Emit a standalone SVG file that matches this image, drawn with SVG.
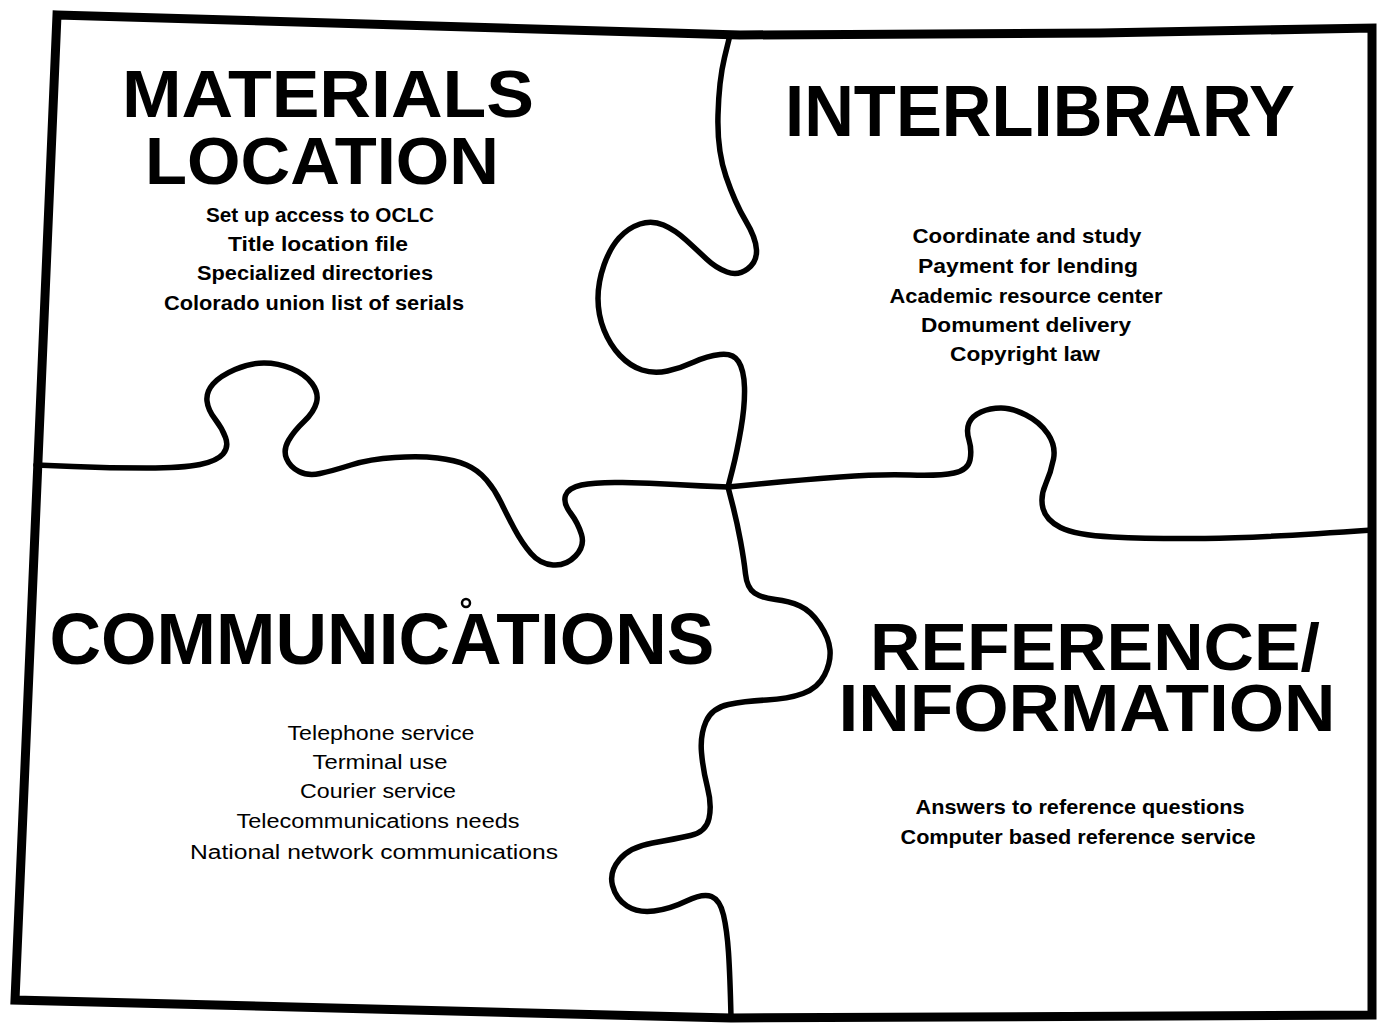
<svg xmlns="http://www.w3.org/2000/svg" width="1383" height="1024" viewBox="0 0 1383 1024">
<style>
.cut{fill:none;stroke:#000;stroke-width:5.5;stroke-linecap:round;stroke-linejoin:round}
.frame{fill:none;stroke:#000;stroke-width:9;stroke-linejoin:miter}
.head{font-family:"Liberation Sans",Arial,sans-serif;font-weight:bold;font-size:72px;fill:#000;text-anchor:middle}
.head2{font-family:"Liberation Sans",Arial,sans-serif;font-weight:bold;font-size:66px;fill:#000;text-anchor:middle}
.item{font-family:"Liberation Sans",Arial,sans-serif;font-weight:bold;font-size:21px;fill:#000;text-anchor:middle}
.light{font-family:"Liberation Sans",Arial,sans-serif;font-weight:normal;font-size:20px;fill:#000;text-anchor:middle}
</style>
<rect width="1383" height="1024" fill="#fff"/>
<g id="frame">
<path class="frame" d="M57,15 L400,25 L740,35 L1100,33 L1372,28 L1372,1015 L731,1018 L15,1000 Z"/>
</g>
<g id="cuts">
<path class="cut" d="M730,35 L724.5,57.5 Q719,80 718,115 Q717,150 726,176.5 Q735,203 745.5,220.5 Q756,238 756.5,250 Q757,262 747.5,269 Q738,276 727,272 Q716,268 706.5,259 Q697,250 686,240 Q675,230 663.5,225 Q652,220 640,224 Q628,228 619,238 Q610,248 604,265 Q598,282 598,298.5 Q598,315 604,330 Q610,345 620,355.5 Q630,366 642,370 Q654,374 667.5,371 Q681,368 694,362 Q707,356 720,354.5 Q733,353 738.5,361.5 Q744,370 744.5,387.5 Q745,405 741,428.5 Q737,452 732.5,469.5 L728,487"/>
<path class="cut" d="M728,487 L732.5,504.5 Q737,522 740.5,541 Q744,560 745.5,574 Q747,588 754.5,593 Q762,598 775.5,599.5 Q789,601 800,606 Q811,611 820,624.5 Q829,638 830,650 Q831,662 824.5,675 Q818,688 803,693.5 Q788,699 766.5,700 Q745,701 728.5,704.5 Q712,708 706,721.5 Q700,735 701.5,752.5 Q703,770 707.5,787.5 Q712,805 709,818.5 Q706,832 690.5,835.5 Q675,839 652.5,843 Q630,847 619.5,859.5 Q609,872 612.5,885.5 Q616,899 627,906 Q638,913 654,911 Q670,909 686.5,901 Q703,893 711.5,896.5 Q720,900 723.5,915 Q727,930 728.5,952.5 Q730,975 731,1017"/>
<path class="cut" d="M36,465 L73,466.5 Q110,468 146.5,468 Q183,468 200,464.5 Q217,461 223,454 Q229,447 225.5,437.5 Q222,428 215,419 Q208,410 207,401 Q206,392 213,384 Q220,376 235,369.5 Q250,363 264,363 Q278,363 291.5,368.5 Q305,374 312,383.5 Q319,393 316.5,402.5 Q314,412 304,421.5 Q294,431 288.5,440.5 Q283,450 286.5,458.5 Q290,467 299,471.5 Q308,476 320,473.5 Q332,471 351,465 Q370,459 395,457.5 Q420,456 437.5,458 Q455,460 466.5,465 Q478,470 486.5,480 Q495,490 501,502.5 Q507,515 514.5,529 Q522,543 531,553.5 Q540,564 553,565 Q566,566 575.5,556 Q585,546 581.5,534.5 Q578,523 570.5,513 Q563,503 565.5,495.5 Q568,488 581.5,485 Q595,482 622.5,482.5 Q650,483 675,484.5 Q700,486 728,487"/>
<path class="cut" d="M728,487 L764,483.5 Q800,480 840,477 Q880,474 910,475 Q940,476 954,473 Q968,470 970,460 Q972,450 969,440 Q966,430 969,423 Q972,416 981,412 Q990,408 1001,408 Q1012,408 1026,415 Q1040,422 1048,434 Q1056,446 1053.5,459 Q1051,472 1045.5,484.5 Q1040,497 1043,508.5 Q1046,520 1060.5,527.5 Q1075,535 1112.5,537 Q1150,539 1205,538.5 Q1260,538 1372,530"/>
<circle cx="466" cy="603" r="4" fill="none" stroke="#000" stroke-width="2.5"/>
</g>
<g id="materials-location">
<text class="head2" x="328" y="117" textLength="412" lengthAdjust="spacingAndGlyphs">MATERIALS</text>
<text class="head2" x="322" y="184" textLength="354" lengthAdjust="spacingAndGlyphs">LOCATION</text>
<text class="item" x="320" y="222" textLength="228" lengthAdjust="spacingAndGlyphs">Set up access to OCLC</text>
<text class="item" x="318" y="251" textLength="180" lengthAdjust="spacingAndGlyphs">Title location file</text>
<text class="item" x="315" y="280" textLength="236" lengthAdjust="spacingAndGlyphs">Specialized directories</text>
<text class="item" x="314" y="310" textLength="300" lengthAdjust="spacingAndGlyphs">Colorado union list of serials</text>
</g>
<g id="interlibrary">
<text class="head" x="1040" y="136" textLength="510" lengthAdjust="spacingAndGlyphs">INTERLIBRARY</text>
<text class="item" x="1027" y="243" textLength="229" lengthAdjust="spacingAndGlyphs">Coordinate and study</text>
<text class="item" x="1028" y="273" textLength="220" lengthAdjust="spacingAndGlyphs">Payment for lending</text>
<text class="item" x="1026" y="303" textLength="273" lengthAdjust="spacingAndGlyphs">Academic resource center</text>
<text class="item" x="1026" y="332" textLength="210" lengthAdjust="spacingAndGlyphs">Domument delivery</text>
<text class="item" x="1025" y="361" textLength="150" lengthAdjust="spacingAndGlyphs">Copyright law</text>
</g>
<g id="communications">
<text class="head" x="382" y="664" textLength="665" lengthAdjust="spacingAndGlyphs">COMMUNICATIONS</text>
<text class="light" x="381" y="740" textLength="187" lengthAdjust="spacingAndGlyphs">Telephone service</text>
<text class="light" x="380" y="769" textLength="135" lengthAdjust="spacingAndGlyphs">Terminal use</text>
<text class="light" x="378" y="798" textLength="156" lengthAdjust="spacingAndGlyphs">Courier service</text>
<text class="light" x="378" y="828" textLength="283" lengthAdjust="spacingAndGlyphs">Telecommunications needs</text>
<text class="light" x="374" y="859" textLength="368" lengthAdjust="spacingAndGlyphs">National network communications</text>
</g>
<g id="reference-information">
<text class="head2" x="1095" y="670" textLength="450" lengthAdjust="spacingAndGlyphs">REFERENCE/</text>
<text class="head2" x="1087" y="731" textLength="497" lengthAdjust="spacingAndGlyphs">INFORMATION</text>
<text class="item" x="1080" y="814" textLength="329" lengthAdjust="spacingAndGlyphs">Answers to reference questions</text>
<text class="item" x="1078" y="844" textLength="355" lengthAdjust="spacingAndGlyphs">Computer based reference service</text>
</g>
</svg>
